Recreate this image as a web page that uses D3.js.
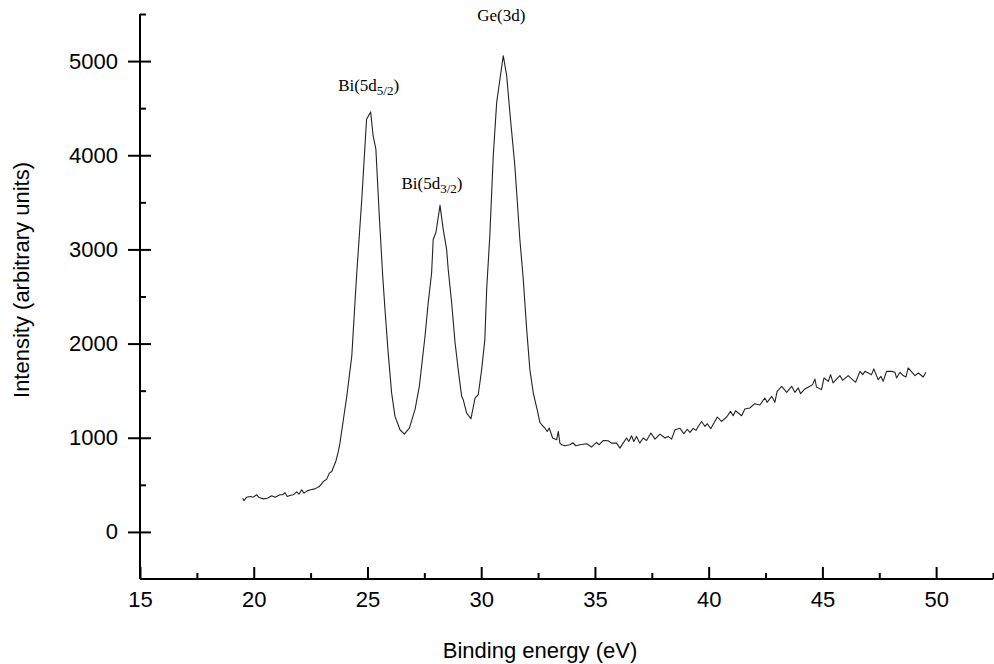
<!DOCTYPE html>
<html>
<head>
<meta charset="utf-8">
<script src="https://cdn.jsdelivr.net/npm/d3@7/dist/d3.min.js"></script>
<style>
  html, body { margin: 0; padding: 0; background: #fff; }
  svg { display: block; }
</style>
</head>
<body>
<svg id="chart" width="994" height="664"></svg>
<script>
// ---- data ----
const energy = [
  19.51,19.57,19.69,19.84,19.98,20.13,20.24,20.42,20.60,20.79,20.93,21.15,21.27,21.37,21.47,21.62,21.74,21.89,21.99,22.11,
  22.21,22.35,22.50,22.69,22.88,23.06,23.21,23.32,23.43,23.53,23.62,23.72,23.79,23.94,24.09,24.31,24.45,24.53,24.75,24.96,
  25.14,25.25,25.37,25.52,25.67,25.77,25.91,26.06,26.21,26.43,26.62,26.84,27.09,27.28,27.38,27.53,27.67,27.82,27.89,28.01,
  28.19,28.33,28.48,28.55,28.70,28.85,28.99,29.14,29.21,29.36,29.55,29.73,29.87,30.02,30.16,30.24,30.38,30.53,30.68,30.97,
  31.12,31.26,31.48,31.70,31.85,32.00,32.14,32.29,32.46,32.58,32.66,32.80,32.90,32.99,33.14,33.32,33.39,33.46,33.54,33.68,
  33.90,34.03,34.16,34.34,34.64,34.85,35.07,35.19,35.37,35.58,35.73,35.95,36.10,36.24,36.39,36.49,36.61,36.71,36.83,36.97,
  37.12,37.27,37.46,37.64,37.86,38.08,38.22,38.37,38.52,38.74,38.91,39.06,39.18,39.32,39.44,39.54,39.69,39.84,39.94,40.09,
  40.38,40.57,40.79,40.96,41.08,41.18,41.45,41.59,41.81,42.03,42.25,42.47,42.57,42.77,42.91,43.01,43.21,43.43,43.65,43.79,
  43.94,44.04,44.23,44.45,44.57,44.67,44.74,44.96,45.07,45.26,45.36,45.47,45.77,45.89,46.13,46.46,46.65,46.77,46.87,47.16,
  47.26,47.45,47.57,47.67,47.82,48.04,48.19,48.26,48.41,48.55,48.67,48.77,49.07,49.22,49.43,49.55
];
const intensity = [
  358,333,369,376,369,394,365,351,358,383,369,394,394,418,376,390,394,426,401,447,
  412,436,447,457,482,535,561,624,641,702,759,855,943,1191,1440,1865,2436,2750,3532,4383,
  4460,4205,4064,3354,2720,2362,1904,1479,1227,1085,1039,1103,1298,1546,1759,2078,2433,2750,3106,3180,
  3468,3213,3000,2787,2436,2011,1723,1440,1404,1262,1202,1422,1457,1723,2042,2574,3150,3993,4560,5057,
  4844,4454,3886,3106,2681,2149,1723,1475,1298,1163,1138,1103,1067,1103,997,979,1067,943,926,915,
  926,947,915,926,936,901,950,926,971,968,943,943,890,943,997,960,1021,960,1014,943,
  997,971,1050,986,1039,997,1014,986,1085,1100,1043,1090,1057,1100,1078,1120,1173,1120,1149,1096,
  1220,1173,1220,1280,1234,1287,1234,1305,1316,1362,1348,1422,1376,1440,1376,1493,1546,1482,1546,1482,
  1529,1468,1518,1546,1564,1624,1539,1511,1635,1599,1670,1582,1660,1610,1660,1589,1705,1670,1705,1670,
  1731,1617,1652,1599,1705,1705,1695,1635,1695,1660,1645,1741,1660,1688,1645,1695
];
const xMajorTicks = [15, 20, 25, 30, 35, 40, 45, 50];
const xMinorTicks = [17.5, 22.5, 27.5, 32.5, 37.5, 42.5, 47.5, 52.5];
const yMajorTicks = [0, 1000, 2000, 3000, 4000, 5000];
const yMinorTicks = [500, 1500, 2500, 3500, 4500, 5500];
const peakLabels = [
  { main: "Bi(5d", sub: "5/2", tail: ")", e: 25.14, v: 4460 },
  { main: "Bi(5d", sub: "3/2", tail: ")", e: 28.19, v: 3468 },
  { main: "Ge(3d)", sub: "", tail: "", e: 30.97, v: 5057 }
];
const xTitle = "Binding energy (eV)";
const yTitle = "Intensity (arbitrary units)";

// ---- drawing ----
const svg = d3.select("#chart");
const x = d3.scaleLinear().domain([15, 52.5]).range([140, 993]);
const y = d3.scaleLinear().domain([-500, 5500]).range([579, 14]);

const sans = "Arial, 'Liberation Sans', sans-serif";
const serif = "'Times New Roman', 'Liberation Serif', serif";

// Y axis: labels + outer half of majors
const yAxisL = svg.append("g").attr("transform", `translate(${x(15)},0)`)
  .call(d3.axisLeft(y).tickValues(yMajorTicks).tickSize(12).tickPadding(10).tickFormat(d3.format("d")));
// inner half of majors
const yAxisR = svg.append("g").attr("transform", `translate(${x(15)},0)`)
  .call(d3.axisRight(y).tickValues(yMajorTicks).tickSize(11).tickFormat(""));
// minor inner ticks
const yAxisM = svg.append("g").attr("transform", `translate(${x(15)},0)`)
  .call(d3.axisRight(y).tickValues(yMinorTicks).tickSize(6).tickFormat(""));

// X axis
const xAxisM = svg.append("g").attr("transform", `translate(0,${y(-500)})`)
  .call(d3.axisBottom(x).tickValues(xMajorTicks).tickSize(-12).tickPadding(12).tickFormat(d3.format("d")));
const xAxisN = svg.append("g").attr("transform", `translate(0,${y(-500)})`)
  .call(d3.axisBottom(x).tickValues(xMinorTicks).tickSize(-6).tickFormat(""));

svg.selectAll(".domain").attr("stroke", "#000").attr("stroke-width", 2);
svg.selectAll(".tick line").attr("stroke", "#000").attr("stroke-width", 2);
svg.selectAll(".tick text").attr("font-family", sans).attr("font-size", 22).attr("fill", "#000");
yAxisR.select(".domain").remove();
yAxisM.select(".domain").remove();
xAxisN.select(".domain").remove();
// plain axis lines without end caps
yAxisL.select(".domain").attr("d", `M0,${y(5500)}V${y(-500)}`);
xAxisM.select(".domain").attr("d", `M${x(15)},0H${x(52.5)}`);

// axis titles
svg.append("text")
  .attr("x", 540).attr("y", 658)
  .attr("text-anchor", "middle")
  .attr("font-family", sans).attr("font-size", 22).attr("fill", "#000")
  .text(xTitle);
svg.append("text")
  .attr("transform", `translate(29,280) rotate(-90)`)
  .attr("text-anchor", "middle")
  .attr("font-family", sans).attr("font-size", 22).attr("fill", "#000")
  .text(yTitle);

// spectrum line
const pts = energy.map((e, i) => [e, intensity[i]]);
const line = d3.line().x(d => x(d[0])).y(d => y(d[1]));
svg.append("path")
  .datum(pts)
  .attr("d", line)
  .attr("fill", "none")
  .attr("stroke", "#222")
  .attr("stroke-width", 1.1)
  .attr("stroke-linejoin", "round");

// peak annotations
const offsets = [{dx: -2, dy: -21}, {dx: -8, dy: -16}, {dx: -2, dy: -35}];
peakLabels.forEach((p, i) => {
  const t = svg.append("text")
    .attr("x", x(p.e) + offsets[i].dx)
    .attr("y", y(p.v) + offsets[i].dy)
    .attr("text-anchor", "middle")
    .attr("font-family", serif).attr("font-size", 17).attr("fill", "#000");
  t.append("tspan").text(p.main);
  if (p.sub) {
    t.append("tspan").attr("font-size", 13).attr("dy", 4).text(p.sub);
    t.append("tspan").attr("dy", -4).text(p.tail);
  }
});
</script>
</body>
</html>
